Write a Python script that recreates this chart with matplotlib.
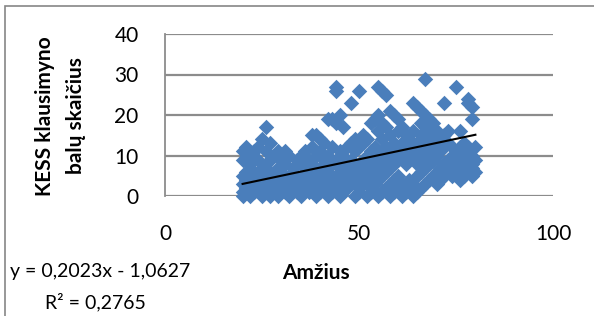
import numpy as np
import matplotlib.pyplot as plt
from matplotlib.patches import Rectangle

# age -> KESS scores, one list per age
scores_by_age = {
    20: [0, 1, 3, 5, 9, 11],
    21: [2, 4, 6, 12],
    22: [0, 3, 5, 8, 10],
    23: [1, 2, 6, 11],
    24: [3, 4, 9, 12],
    25: [0, 2, 5, 7, 14],
    26: [1, 4, 8, 11, 17],
    27: [0, 3, 6, 9, 13],
    28: [1, 2, 5, 10],
    29: [0, 4, 7, 11],
    30: [2, 3, 6, 9],
    31: [1, 5, 8, 11],
    32: [0, 2, 4, 10],
    33: [3, 6, 7],
    34: [1, 5, 9],
    35: [0, 2, 4, 8, 10],
    36: [3, 6, 11],
    37: [1, 4, 7, 9],
    38: [2, 5, 8, 12, 15],
    39: [0, 3, 6, 10, 15],
    40: [1, 4, 7, 11, 14],
    41: [2, 5, 9, 13],
    42: [0, 3, 6, 10, 19],
    43: [1, 4, 8, 12, 19],
    44: [2, 5, 9, 18, 26, 27],
    45: [0, 3, 7, 11, 20],
    46: [1, 4, 6, 10, 17],
    47: [2, 5, 8, 12],
    48: [3, 7, 9, 13, 23],
    49: [0, 4, 6, 11, 14],
    50: [1, 2, 5, 8, 12, 26],
    51: [3, 6, 9, 13, 15],
    52: [0, 4, 7, 10, 14],
    53: [1, 2, 5, 8, 11, 18],
    54: [3, 6, 9, 12, 19],
    55: [0, 4, 7, 10, 16, 20, 27],
    56: [1, 5, 8, 11, 14, 18, 26],
    57: [2, 6, 9, 12, 17, 25],
    58: [0, 3, 7, 10, 15, 21],
    59: [1, 4, 8, 11, 13, 20],
    60: [2, 5, 9, 12, 16, 19],
    61: [0, 3, 10, 13, 17],
    62: [1, 8, 11, 15],
    63: [2, 4, 9, 12, 14],
    64: [0, 3, 10, 16, 23],
    65: [1, 5, 8, 11, 13, 22],
    66: [2, 6, 9, 12, 15, 18, 21],
    67: [3, 7, 10, 14, 17, 20, 29],
    68: [4, 8, 11, 13, 16, 19],
    69: [5, 9, 12, 15, 18],
    70: [3, 6, 10, 13, 16],
    71: [4, 7, 11, 14],
    72: [5, 8, 12, 15, 23],
    73: [6, 9, 13, 16],
    74: [5, 7, 10, 12],
    75: [6, 8, 11, 27],
    76: [4, 7, 9, 12, 16],
    77: [5, 8, 10, 13],
    78: [6, 9, 12, 23, 24],
    79: [5, 7, 8, 10, 19, 22],
    80: [6, 9, 12],
}

slope = 0.2023
intercept = -1.0627
r2_text = "0,2765"

x_ticks = [0, 50, 100]
y_ticks = [0, 10, 20, 30, 40]

ages = [a for a, ys in scores_by_age.items() for _ in ys]
scores = [y for ys in scores_by_age.values() for y in ys]

plt.rcParams['font.family'] = ['Lato', 'DejaVu Sans']

W, H = 594, 316
fig = plt.figure(figsize=(W / 100, H / 100), dpi=100)
ax = fig.add_axes([165 / W, 1 - 196 / H, (553 - 165) / W, (196 - 34) / H])

ax.scatter(ages, scores, marker='D', s=62, color='#4A7EBB', linewidths=0, zorder=3,
           clip_on=False)

xs = np.array([min(ages), max(ages)])
ax.plot(xs, slope * xs + intercept, color='black', lw=1.5, zorder=4)

ax.set_xlim(0, 100)
ax.set_ylim(0, 40)
ax.set_xticks(x_ticks)
ax.set_yticks(y_ticks)
ax.tick_params(length=0, labelsize=15)
ax.tick_params(axis='x', pad=20)
ax.tick_params(axis='y', pad=19)
ax.grid(axis='y', color='#8c8c8c', lw=1.6, zorder=0)
for s in ['top', 'right', 'bottom']:
    ax.spines[s].set_visible(False)
ax.spines['left'].set_color('#8c8c8c')
ax.spines['left'].set_linewidth(1.3)

# axis titles and trendline label
fig.text(45 / W, 1 - 116 / H, 'KESS klausimyno', rotation=90, ha='center', va='center',
         fontsize=15, fontweight='bold')
fig.text(76 / W, 1 - 116 / H, 'balų skaičius', rotation=90, ha='center', va='center',
         fontsize=15, fontweight='bold')
fig.text(316 / W, 1 - 273 / H, 'Amžius', ha='center', va='center', fontsize=15,
         fontweight='bold')
fig.text(10 / W, 1 - 271 / H, 'y = 0,2023x - 1,0627', ha='left', va='center', fontsize=14)
fig.text(45 / W, 1 - 302 / H, 'R² = ' + r2_text, ha='left', va='center', fontsize=14)

# chart border
fig.patches.append(Rectangle((5 / W, -0.1), 1.2, 1 - 6 / H + 0.1, transform=fig.transFigure,
                             fill=False, edgecolor='#868686', lw=1.2))

fig.savefig('out.png', dpi=100)
